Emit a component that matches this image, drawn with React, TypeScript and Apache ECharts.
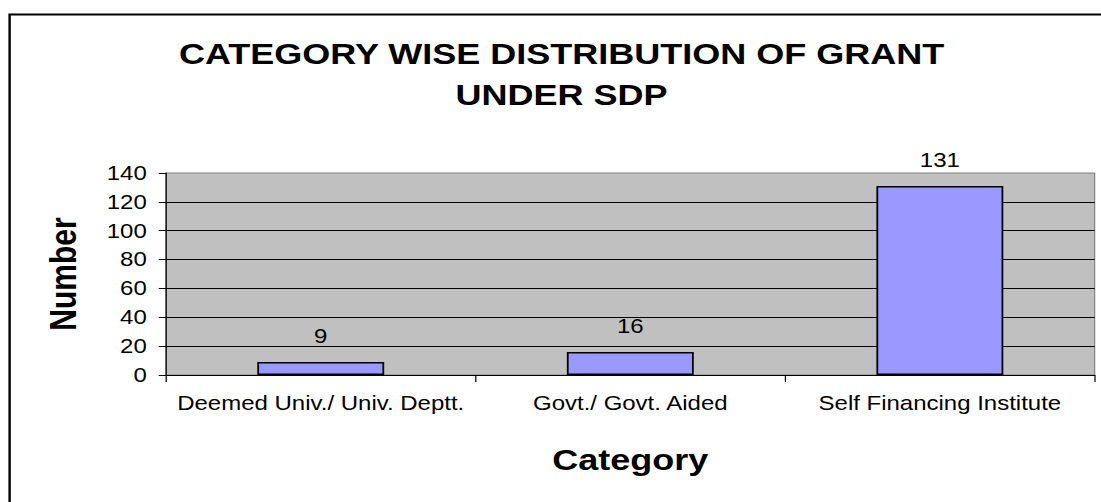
import React, { useEffect, useRef } from "react";
import * as echarts from "echarts";

const titleLines = ["CATEGORY WISE DISTRIBUTION OF GRANT", "UNDER SDP"];
const categories = ["Deemed Univ./ Univ. Deptt.", "Govt./ Govt. Aided", "Self Financing Institute"];
const values = [9, 16, 131];
const yMin = 0;
const yMax = 140;
const yStep = 20;
const xName = "Category";
const yName = "Number";

const FONT = '"Liberation Sans", Arial, sans-serif';
const STRETCH = 1.2;
const W = 1101 / STRETCH;
const H = 502;

export default function App() {
  const ref = useRef<HTMLDivElement>(null);
  useEffect(() => {
    document.body.style.margin = "0";
    const chart = echarts.init(ref.current!, undefined, { renderer: "svg" });
    chart.setOption({
      animation: false,
      title: {
        text: titleLines.join("\n"),
        left: 468,
        top: 33,
        textAlign: "center",
        padding: 0,
        textStyle: { fontFamily: FONT, fontSize: 30, fontWeight: "bold", color: "#000", lineHeight: 41 },
      },
      grid: {
        left: 138.3,
        right: 5.8,
        top: 173,
        bottom: 127,
        show: true,
        backgroundColor: "#C0C0C0",
        borderColor: "#808080",
        borderWidth: 1,
        containLabel: false,
        outerBoundsMode: "none",
      },
      xAxis: {
        type: "category",
        data: categories,
        name: xName,
        nameLocation: "middle",
        nameGap: 70,
        nameTextStyle: { fontFamily: FONT, fontSize: 30, fontWeight: "bold", color: "#000" },
        axisLine: { show: true, lineStyle: { color: "#000", width: 1 } },
        axisTick: { show: true, length: 7, lineStyle: { color: "#000", width: 1 } },
        axisLabel: { interval: 0, margin: 18, fontFamily: FONT, fontSize: 20, color: "#000" },
        splitLine: { show: false },
      },
      yAxis: {
        type: "value",
        min: yMin,
        max: yMax,
        interval: yStep,
        name: yName,
        nameLocation: "middle",
        nameRotate: 90,
        nameGap: 70,
        nameTextStyle: { fontFamily: FONT, fontSize: 30, fontWeight: "bold", color: "#000" },
        axisLine: { show: true, lineStyle: { color: "#000", width: 1 } },
        axisTick: { show: true, length: 6, lineStyle: { color: "#000", width: 1 } },
        axisLabel: { margin: 16, fontFamily: FONT, fontSize: 20, color: "#000" },
        splitLine: { show: true, showMaxLine: false, lineStyle: { color: "#000", width: 1 } },
      },
      series: [
        {
          type: "bar",
          data: values,
          barWidth: "41%",
          itemStyle: { color: "#9999FF", borderColor: "#000", borderWidth: 1.5 },
          label: { show: true, position: "top", distance: 16, fontFamily: FONT, fontSize: 20, color: "#000" },
        },
      ],
      graphic: [
        {
          type: "rect",
          silent: true,
          z: 100,
          shape: { x: 8, y: 14.5, width: 2000, height: 1000 },
          style: { fill: "none", stroke: "#000", lineWidth: 2 },
        },
      ],
    });
    return () => chart.dispose();
  }, []);
  return (
    <div
      ref={ref}
      style={{
        width: W + "px",
        height: H + "px",
        transform: `scaleX(${STRETCH})`,
        transformOrigin: "0 0",
        background: "#fff",
      }}
    />
  );
}
